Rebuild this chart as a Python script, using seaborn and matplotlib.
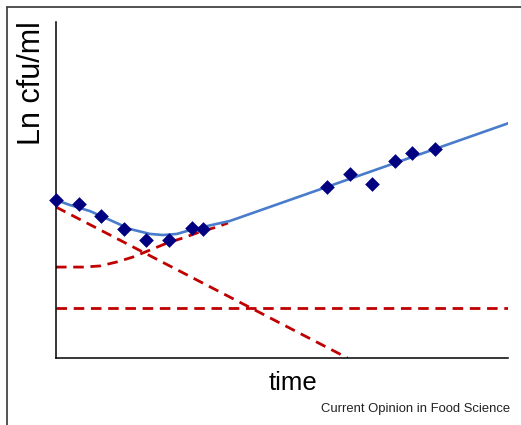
import matplotlib
matplotlib.use("Agg")
import matplotlib.pyplot as plt
from matplotlib.lines import Line2D
import pandas as pd
import seaborn as sns

# Observed counts (diamonds)
obs_time = [0.0, 1.0, 2.0, 3.0, 4.0, 5.0, 6.0, 6.5, 12.0, 13.0, 14.0, 15.0, 15.75, 16.75]
obs_ln = [7.05, 6.88, 6.34, 5.76, 5.27, 5.27, 5.80, 5.76, 7.63, 8.21, 7.77, 8.79, 9.15, 9.33]

# Overall fitted curve (solid blue)
fit_time = [0.0, 0.62, 1.50, 2.39, 3.27, 4.16, 4.73, 5.35, 5.93, 6.81, 7.70, 20.04]
fit_ln = [7.05, 6.83, 6.56, 6.16, 5.76, 5.54, 5.49, 5.54, 5.71, 5.92, 6.12, 10.49]

# Sensitive subpopulation, inactivated
dec_time = [0.0, 12.9]
dec_ln = [6.74, 0.0]

# Adapted subpopulation, lag then growth
grow_time = [0.0, 1.19, 1.95, 2.70, 3.41, 4.16, 4.91, 5.62, 6.37, 7.12, 7.61]
grow_ln = [4.06, 4.06, 4.11, 4.29, 4.51, 4.82, 5.13, 5.36, 5.63, 5.85, 6.03]

# Resistant subpopulation, constant
const_time = [0.0, 20.0]
const_ln = [2.23, 2.23]

sns.set_style("white")
plt.rcParams["font.family"] = ["Liberation Sans", "DejaVu Sans"]

fig = plt.figure(figsize=(5.21, 4.25), dpi=100)
ax = fig.add_axes([0.1075, 0.1576, 0.8675, 0.7906])

red = "#c00000"
blue = "#4a7ccc"
dash = (3.8, 2.4)

for t, v in [(dec_time, dec_ln), (grow_time, grow_ln), (const_time, const_ln)]:
    d = pd.DataFrame({"t": t, "v": v})
    sns.lineplot(data=d, x="t", y="v", ax=ax, color=red, lw=2.0,
                 dashes=False, sort=False, estimator=None,
                 linestyle=(0, dash), zorder=2)

fit = pd.DataFrame({"t": fit_time, "v": fit_ln})
sns.lineplot(data=fit, x="t", y="v", ax=ax, color=blue, lw=1.9,
             sort=False, estimator=None, zorder=3)

obs = pd.DataFrame({"t": obs_time, "v": obs_ln})
sns.scatterplot(data=obs, x="t", y="v", ax=ax, marker="D", s=56,
                color="#000080", linewidth=0, zorder=4, clip_on=False)

ax.set_xlim(0, 20)
ax.set_ylim(0, 15)
ax.set_xticks([])
ax.set_yticks([])
for side in ["top", "right"]:
    ax.spines[side].set_visible(False)
for side in ["left", "bottom"]:
    ax.spines[side].set_color("black")
    ax.spines[side].set_linewidth(1.1)

ax.set_xlabel("")
ax.set_ylabel("")
fig.text(293 / 521, 1 - 383 / 425, "time", fontsize=18.5, ha="center",
         va="center", color="black")
fig.text(32 / 521, 1 - 83 / 425, "Ln cfu/ml", fontsize=22, rotation=90,
         ha="center", va="center", color="black")
fig.text(510 / 521, 1 - 409 / 425, "Current Opinion in Food Science",
         fontsize=9.4, ha="right", va="center", color="#222222")

# outer frame edges
fig.add_artist(Line2D([7 / 521, 1.0], [1 - 7 / 425, 1 - 7 / 425],
                      transform=fig.transFigure, color="#444444", lw=1.3))
fig.add_artist(Line2D([7 / 521, 7 / 521], [0.0, 1 - 7 / 425],
                      transform=fig.transFigure, color="#444444", lw=1.3))

fig.savefig("out.png", dpi=100)
